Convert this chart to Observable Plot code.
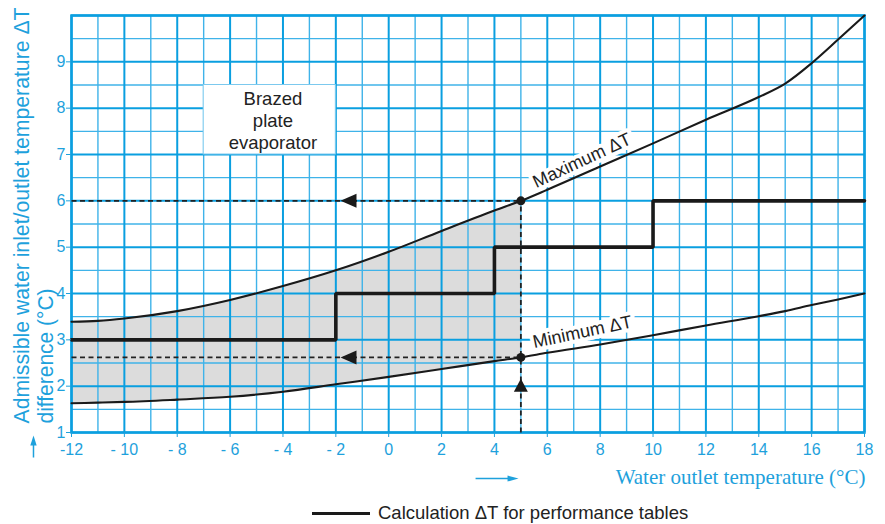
<!DOCTYPE html>
<html>
<head>
<meta charset="utf-8">
<script src="https://cdn.jsdelivr.net/npm/d3@7"></script>
<script src="https://cdn.jsdelivr.net/npm/@observablehq/plot@0.6"></script>
<style>
  html, body { margin: 0; padding: 0; background: #fff; }
  #chart { width: 885px; }
  #legend { position: relative; width: 885px; height: 24px; font-family: "Liberation Sans", Arial, sans-serif; }
  #legend .swatch { position: absolute; left: 312px; top: 12px; width: 58px; height: 3.4px; background: #1a1a1a; }
  #legend .txt { position: absolute; left: 378px; top: 4px; font-size: 18.5px; line-height: 18.5px; color: #222; white-space: nowrap; }
</style>
</head>
<body>
<div id="chart"></div>
<div id="legend"><span class="swatch"></span><span class="txt">Calculation ΔT for performance tables</span></div>
<script>
// ---- data ----
const waterOutlet = [-12, -11, -10, -8, -6, -4, -2, 0, 2, 4, 5, 6, 8, 10, 12, 14, 15, 16, 17, 18];
const maxDeltaT   = [3.39, 3.41, 3.46, 3.62, 3.86, 4.16, 4.50, 4.90, 5.35, 5.79, 6.00, 6.24, 6.74, 7.24, 7.75, 8.24, 8.53, 8.97, 9.48, 10.0];
const minDeltaT   = [1.63, 1.645, 1.66, 1.71, 1.77, 1.88, 2.04, 2.20, 2.37, 2.54, 2.62, 2.72, 2.90, 3.10, 3.31, 3.51, 3.62, 3.75, 3.87, 4.00];

const calcX = [-12, -2, 4, 10, 18];
const calcY = [3, 4, 5, 6, 6];

const xTickValues = [-12, -10, -8, -6, -4, -2, 0, 2, 4, 6, 8, 10, 12, 14, 16, 18];
const xTickLabels = ["-12", "- 10", "- 8", "- 6", "- 4", "- 2", "0", "2", "4", "6", "8", "10", "12", "14", "16", "18"];
const yTickValues = [1, 2, 3, 4, 5, 6, 7, 8, 9];

const gridMajorX = [-12, -10, -8, -6, -4, -2, 0, 2, 4, 6, 8, 10, 12, 14, 16, 18];
const gridMinorX = [-11, -9, -7, -5, -3, -1, 1, 3, 5, 7, 9, 11, 13, 15, 17];
const gridMajorY = [1, 2, 3, 4, 5, 6, 7, 8, 9, 10];
const gridMinorY = [1.5, 2.5, 3.5, 4.5, 5.5, 6.5, 7.5, 8.5, 9.5];

const selectedX = 5;           // worked example: outlet 5 °C
const selectedMax = 6.0;
const selectedMin = 2.62;
const exampleDashes = [
  {x1: -12, y1: selectedMax, x2: selectedX, y2: selectedMax},
  {x1: -12, y1: selectedMin, x2: selectedX, y2: selectedMin},
  {x1: selectedX, y1: 1, x2: selectedX, y2: selectedMax}
];
const examplePoints = [{x: selectedX, y: selectedMax}, {x: selectedX, y: selectedMin}];
const leftHeads = [{x: -1.52, y: selectedMax}, {x: -1.52, y: selectedMin}];
const upHeads = [{x: selectedX, y: 2.01}];

const evaporatorBox = [{x1: -7, x2: -2, y1: 7, y2: 8.5, label: "Brazed\nplate\nevaporator", lx: -4.38, ly: 7.74}];
const curveLabels = [
  {x: 7.31, y: 6.87, text: "Maximum ΔT", angle: -25},
  {x: 7.33, y: 3.17, text: "Minimum ΔT", angle: -12}
];
const axisArrowLines = [
  {x1: -13.438, y1: 0.46, x2: -13.438, y2: 0.76},
  {x1: 3.286, y1: 0.007, x2: 4.58, y2: 0.007}
];
const axisArrowUp = [{x: -13.438, y: 0.827}];
const axisArrowRight = [{x: 4.704, y: 0.007}];

const yLabelLine1 = "Admissible water inlet/outlet temperature ΔT";
const yLabelLine2 = "difference (°C)";
const xLabel = "Water outlet temperature (°C)";

// ---- build ----
const rows = waterOutlet.map((x, i) => ({x, max: maxDeltaT[i], min: minDeltaT[i]}));
const shaded = rows.filter(d => d.x <= selectedX);
const calcRows = calcX.map((x, i) => ({x, y: calcY[i]}));

const BLUE = "#0a9fe0";
const BLUE_MINOR = "#3fb3e9";
const BLUE_TEXT = "#1ea1dc";
const INK = "#1a1a1a";
const SANS = "'Liberation Sans', Arial, Helvetica, sans-serif";

const leftTri = {draw(c) { c.moveTo(-8, 0); c.lineTo(8, -7); c.lineTo(8, 7); c.closePath(); }};
const upTri = {draw(c) { c.moveTo(0, -7); c.lineTo(7, 6); c.lineTo(-7, 6); c.closePath(); }};
const blueUp = {draw(c) { c.moveTo(0, -5); c.lineTo(3.2, 5); c.lineTo(-3.2, 5); c.closePath(); }};
const blueRight = {draw(c) { c.moveTo(5.5, 0); c.lineTo(-5.5, -3); c.lineTo(-5.5, 3); c.closePath(); }};

const plot = Plot.plot({
  width: 885,
  height: 500,
  marginLeft: 71,
  marginRight: 21,
  marginTop: 15,
  marginBottom: 68,
  style: {fontFamily: SANS, fontSize: "16px", background: "white", overflow: "visible"},
  x: {domain: [-12, 18]},
  y: {domain: [1, 10]},
  marks: [
    Plot.areaY(shaded, {x: "x", y1: "min", y2: "max", fill: "#dcdcdc", curve: "monotone-x"}),
    Plot.ruleX(gridMinorX, {stroke: BLUE_MINOR, strokeWidth: 1.4}),
    Plot.ruleY(gridMinorY, {stroke: BLUE_MINOR, strokeWidth: 1.4}),
    Plot.ruleX(gridMajorX, {stroke: BLUE, strokeWidth: 2}),
    Plot.ruleY(gridMajorY, {stroke: BLUE, strokeWidth: 2}),
    Plot.frame({stroke: BLUE, strokeWidth: 2.5}),
    Plot.rect(evaporatorBox, {x1: "x1", x2: "x2", y1: "y1", y2: "y2", fill: "white", stroke: "#7cc9ee", strokeWidth: 1}),
    Plot.text(evaporatorBox, {x: "lx", y: "ly", text: "label", fontSize: 18.5, lineHeight: 1.19, fill: "#222", fontFamily: SANS, lineAnchor: "middle"}),
    Plot.text(curveLabels, {x: "x", y: "y", text: "text", rotate: (d) => d.angle, fontSize: 18, fill: "#222", fontFamily: SANS, stroke: "white", strokeWidth: 8, paintOrder: "stroke"}),
    Plot.link(exampleDashes, {x1: "x1", y1: "y1", x2: "x2", y2: "y2", stroke: "#222", strokeWidth: 1.8, strokeDasharray: "5,3.5"}),
    Plot.line(rows, {x: "x", y: "max", stroke: INK, strokeWidth: 2.1, curve: "monotone-x"}),
    Plot.line(rows, {x: "x", y: "min", stroke: INK, strokeWidth: 2.1, curve: "monotone-x"}),
    Plot.line(calcRows, {x: "x", y: "y", stroke: INK, strokeWidth: 3.6, curve: "step-after", strokeLinejoin: "miter"}),
    Plot.dot(examplePoints, {x: "x", y: "y", r: 4.5, fill: INK}),
    Plot.dot(leftHeads, {x: "x", y: "y", symbol: leftTri, fill: INK}),
    Plot.dot(upHeads, {x: "x", y: "y", symbol: upTri, fill: INK}),
    Plot.axisX(xTickValues, {tickSize: 5, tickPadding: 6, color: BLUE_TEXT, fontSize: 16, fontFamily: SANS, label: null,
      tickFormat: (d) => xTickLabels[xTickValues.indexOf(d)]}),
    Plot.axisY(yTickValues, {tickSize: 5, tickPadding: 1, color: BLUE_TEXT, fontSize: 16, fontFamily: SANS, label: null}),
    Plot.link(axisArrowLines, {x1: "x1", y1: "y1", x2: "x2", y2: "y2", stroke: BLUE_TEXT, strokeWidth: 1.5}),
    Plot.dot(axisArrowUp, {x: "x", y: "y", symbol: blueUp, fill: BLUE_TEXT}),
    Plot.dot(axisArrowRight, {x: "x", y: "y", symbol: blueRight, fill: BLUE_TEXT}),
    Plot.text([yLabelLine1], {text: (d) => d, frameAnchor: "bottom-left", dx: -43, dy: -9, rotate: -90, textAnchor: "start", lineAnchor: "bottom",
      fontSize: 21.2, fill: BLUE_TEXT, fontFamily: SANS}),
    Plot.text([yLabelLine2], {text: (d) => d, frameAnchor: "bottom-left", dx: -19, dy: -9, rotate: -90, textAnchor: "start", lineAnchor: "bottom",
      fontSize: 21.2, fill: BLUE_TEXT, fontFamily: SANS}),
    Plot.text([xLabel], {text: (d) => d, frameAnchor: "bottom-right", dx: 1, dy: 51, textAnchor: "end", lineAnchor: "bottom",
      fontSize: 21, fill: BLUE_TEXT, fontFamily: "'Liberation Serif', 'Times New Roman', serif"})
  ]
});

const fitText = (content, len) => d3.select(plot).selectAll("text")
  .filter(function() { return this.textContent === content; })
  .attr("textLength", len).attr("lengthAdjust", "spacingAndGlyphs");
fitText(yLabelLine1, 416);
fitText(yLabelLine2, 135);

document.getElementById("chart").appendChild(plot);
</script>
</body>
</html>
